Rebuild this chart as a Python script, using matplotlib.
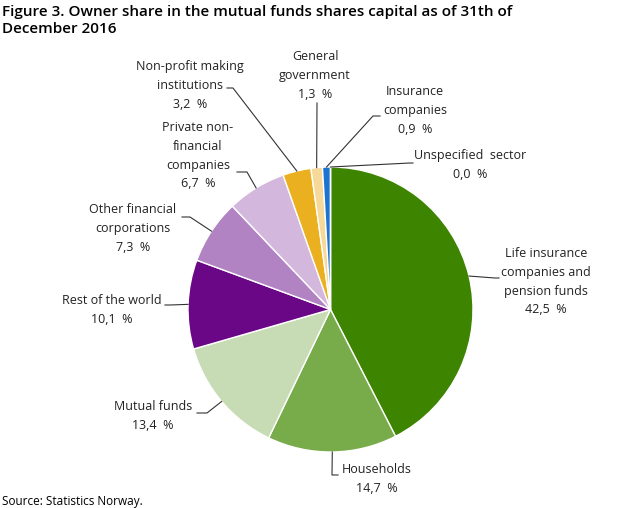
import numpy as np
import matplotlib
matplotlib.use("Agg")
import matplotlib.pyplot as plt
from matplotlib.lines import Line2D

plt.rcParams["font.family"] = ["Open Sans", "DejaVu Sans"]

W, H = 628, 508

sectors = [
    "Life insurance\ncompanies and\npension funds",
    "Households",
    "Mutual funds",
    "Rest of the world",
    "Other financial\ncorporations",
    "Private non-\nfinancial\ncompanies",
    "Non-profit making\ninstitutions",
    "General\ngovernment",
    "Insurance\ncompanies",
    "Unspecified  sector",
]
shares = [42.5, 14.7, 13.4, 10.1, 7.3, 6.7, 3.2, 1.3, 0.9, 0.0]
colors = ["#3d8400", "#78ab4a", "#c7dcb5", "#6a0786", "#b183c3",
          "#d4b7dd", "#ebb020", "#f6d899", "#1c74d0", "#9a9a9a"]

# label layout in pixels (image coords): text centre x, first line y, elbow point
layout = [
    (546, 255, (495, 278)),
    (377, 471, (332, 475)),
    (153, 408, (207, 413)),
    (112, 302, (170, 305)),
    (133, 211, (190, 217)),
    (198, 129, (247, 172)),
    (190, 68, (233, 88)),
    (315, 58, (317, 103)),
    (415, 93, (373, 116)),
    (470, 157, (410, 163)),
]
# horizontal stub end point x (towards text)
stub = [499, 338, 197, 165, 182, 237, 227, 317, 380, 413]


def fig_xy(x, y):
    return x / W, 1 - y / H


fig = plt.figure(figsize=(W / 100, H / 100), dpi=100)

cx, cy, r = 330.5, 309.5, 142.5
ax = fig.add_axes([(cx - r) / W, (H - cy - r) / H, 2 * r / W, 2 * r / H])
wedges, _ = ax.pie(shares, colors=colors, startangle=90, counterclock=False,
                   wedgeprops=dict(edgecolor="white", linewidth=1))
ax.set_xlim(-1, 1)
ax.set_ylim(-1, 1)
ax.set_aspect("equal")

for w, label, val, (tx, ty, elbow), sx in zip(wedges, sectors, shares, layout, stub):
    ang = np.deg2rad((w.theta1 + w.theta2) / 2)
    px = cx + r * np.cos(ang)
    py = cy - r * np.sin(ang)
    xs = [px, elbow[0], sx]
    ys = [py, elbow[1], elbow[1]]
    fig.add_artist(Line2D([x / W for x in xs], [1 - y / H for y in ys],
                          color="#333333", lw=0.8))
    text = label + "\n" + f"{val:.1f}".replace(".", ",") + "  %"
    fig.text(*fig_xy(tx, ty - 8), text, ha="center", va="top",
             fontsize=9, color="#222222", linespacing=1.58)

fig.text(*fig_xy(2, 5), "Figure 3. Owner share in the mutual funds shares capital as of 31th of\nDecember 2016",
         ha="left", va="top", fontsize=11, fontweight="semibold", color="#000000", linespacing=1.3)
fig.text(*fig_xy(2, 501), "Source: Statistics Norway.", ha="left", va="center",
         fontsize=8.5, color="#000000")

fig.savefig("out.png", dpi=100)
